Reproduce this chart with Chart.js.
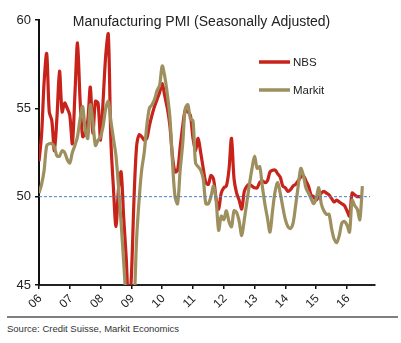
<!DOCTYPE html>
<html>
<head>
<meta charset="utf-8">
<script src="https://cdn.jsdelivr.net/npm/chart.js@4.4.1/dist/chart.umd.min.js"></script>
<style>
	html, body { margin: 0; padding: 0; background: #fff; }
	#wrap { position: relative; width: 401px; height: 343px; font-family: Arial, "Liberation Sans", sans-serif; }
	#pmi-chart { position: absolute; left: 0; top: 0; }
	#rule { position: absolute; left: 7px; top: 316px; width: 391px; height: 2px; background: #7f7f7f; }
	#source { position: absolute; left: 7px; top: 323px; font-size: 9.5px; color: #333; white-space: nowrap; }
</style>
</head>
<body>
<div id="wrap">
	<canvas id="pmi-chart" width="401" height="312"></canvas>
	<div id="rule"></div>
	<div id="source">Source: Credit Suisse, Markit Economics</div>
</div>
<script>
// Manufacturing PMI, monthly from Jan 2006
const startYear = 2006;
const yearLabels = ['06', '07', '08', '09', '10', '11', '12', '13', '14', '15', '16'];
const refLevel = 50;

const nbs = [
	52.0, 53.5, 56.5, 58.1, 54.8, 54.3, 52.6, 54.5, 57.1, 54.8, 55.3, 55.0,
	54.6, 53.0, 55.8, 58.7, 55.5, 53.4, 53.6, 54.3, 56.2, 53.6, 55.4, 55.3,
	53.2, 55.5, 58.0, 59.2, 53.2, 50.5, 48.3, 50.5, 51.4, 48.8, 46.5, 43.5,
	45.5, 49.8, 52.8, 53.5, 53.4, 53.2, 53.3, 54.0, 54.6, 55.1, 55.5, 55.9,
	56.4, 55.7, 55.0, 54.0, 52.3, 51.4, 51.5, 52.8, 54.0, 54.9, 54.8, 54.6,
	53.3, 52.6, 53.3, 52.5, 51.6, 50.8, 50.7, 51.2, 51.0, 49.9, 49.3, 50.2,
	50.5, 50.6, 51.5, 53.3, 51.0, 50.2, 49.8, 49.3, 50.3, 50.6, 50.7, 50.6,
	50.5, 50.5, 50.8, 50.9, 50.8, 50.9, 51.4, 51.5, 51.5, 51.3, 51.1, 50.6,
	50.5, 50.3, 50.4, 50.6, 50.7, 50.9, 51.1, 51.2, 50.9, 50.6, 50.1, 50.0,
	49.8, 50.0, 50.2, 50.3, 50.2, 50.1, 49.9, 49.7, 49.8, 49.7, 49.6, 49.5,
	49.2, 48.9, 50.2, 50.1, 50.0, 50.0, 49.9
];

const markit = [
	50.2, 50.7, 51.5, 52.9, 53.0, 53.0, 52.8, 52.3, 52.3, 52.6, 52.5, 52.1,
	51.9, 52.5, 52.9, 53.4, 54.4, 55.1, 53.8, 53.3, 55.2, 54.2, 52.9, 53.2,
	53.4, 54.0, 55.0, 55.4, 54.3, 53.3, 52.3, 50.5, 48.5, 46.3, 44.0, 42.0,
	41.5, 43.5, 47.5, 49.8, 51.5, 52.5, 54.0, 55.0, 55.2, 55.5, 56.0, 56.3,
	57.4, 56.8, 55.8, 54.5, 52.0, 50.0, 49.6, 51.5, 53.0, 55.0, 55.2, 54.4,
	54.3, 51.9, 51.7, 51.5, 51.0, 49.6, 49.6, 50.0, 50.6, 49.8, 48.1, 48.9,
	48.7, 49.2, 48.6, 48.3, 49.2, 49.1, 48.6, 47.8, 48.7, 49.7, 50.7, 51.6,
	52.3, 51.6, 51.7, 50.6, 49.6, 48.8, 48.0, 49.2, 50.3, 50.8, 50.2, 49.4,
	48.7, 48.3, 48.2, 48.5, 49.5, 50.6, 51.6, 51.2, 50.5, 50.2, 49.9, 49.6,
	49.9, 50.5, 49.6, 49.2, 49.0, 49.0, 48.2, 47.6, 47.4, 47.8, 48.5, 48.6,
	48.4, 48.0, 49.8, 49.5, 49.3, 48.7, 50.6
];

(function () {
	const xMax = 2016.91;
	const refEnd = 2016.75;

	const monthX = nbs.map((v, i) => startYear + i / 12);
	const toPoints = (vals) => vals.map((v, i) => ({ x: monthX[i], y: v }));

	const colors = { nbs: '#c8231b', markit: '#9d905e', ref: '#4f7fc4' };
	const font = 'Arial, "Liberation Sans", sans-serif';

	// title, legend and slanted year labels are drawn by hand
	const overlayText = {
		id: 'overlayText',
		afterDraw (chart) {
			const c = chart.ctx;
			const xScale = chart.scales.x;
			c.save();
			c.fillStyle = '#222';
			c.font = '14px ' + font;
			c.textAlign = 'center';
			c.textBaseline = 'middle';
			c.fillText('Manufacturing PMI (Seasonally Adjusted)', 201.5, 22);

			c.font = '12px ' + font;
			yearLabels.forEach((label, i) => {
				const x = xScale.getPixelForValue(startYear + i);
				c.save();
				c.translate(x - 3.5, xScale.top + 16.5);
				c.rotate(-Math.PI / 4);
				c.fillText(label, 0, 0);
				c.restore();
			});

			const items = [
				{ text: 'NBS', color: colors.nbs, y: 62 },
				{ text: 'Markit', color: colors.markit, y: 90 }
			];
			c.font = '11.5px ' + font;
			c.textAlign = 'left';
			items.forEach(item => {
				c.strokeStyle = item.color;
				c.lineWidth = 3.5;
				c.beginPath();
				c.moveTo(259, item.y);
				c.lineTo(290, item.y);
				c.stroke();
				c.fillStyle = '#222';
				c.fillText(item.text, 293, item.y + 0.5);
			});
			c.restore();
		}
	};

	const axisGrid = { drawOnChartArea: false, drawTicks: true, tickLength: 4, color: '#111', lineWidth: 1.5 };

	new Chart(document.getElementById('pmi-chart'), {
		type: 'line',
		data: {
			datasets: [
				{
					label: 'NBS',
					data: toPoints(nbs),
					borderColor: colors.nbs,
					borderWidth: 3.2,
					pointRadius: 0,
					tension: 0.3,
					order: 2
				},
				{
					label: 'Markit',
					data: toPoints(markit),
					borderColor: colors.markit,
					borderWidth: 3.2,
					pointRadius: 0,
					tension: 0.3,
					order: 1
				},
				{
					label: 'ref',
					data: [{ x: startYear, y: refLevel }, { x: refEnd, y: refLevel }],
					borderColor: colors.ref,
					borderWidth: 1,
					borderDash: [3, 2],
					pointRadius: 0,
					order: 0
				}
			]
		},
		options: {
			responsive: false,
			animation: false,
			layout: { padding: { top: 20, right: 26, left: 0, bottom: 0 } },
			plugins: {
				legend: { display: false },
				tooltip: { enabled: false }
			},
			scales: {
				x: {
					type: 'linear',
					min: startYear,
					max: xMax,
					afterBuildTicks: (axis) => {
						axis.ticks = yearLabels.map((l, i) => ({ value: startYear + i }));
					},
					afterFit: (scale) => { scale.height = 27; },
					ticks: { display: false },
					grid: axisGrid,
					border: { color: '#222', width: 2 }
				},
				y: {
					min: 45,
					max: 60,
					afterFit: (scale) => { scale.width = 39; },
					ticks: {
						stepSize: 5,
						padding: 4,
						color: '#222',
						font: { size: 13, family: font }
					},
					grid: axisGrid,
					border: { color: '#111', width: 2 }
				}
			}
		},
		plugins: [overlayText]
	});
})();
</script>
</body>
</html>
